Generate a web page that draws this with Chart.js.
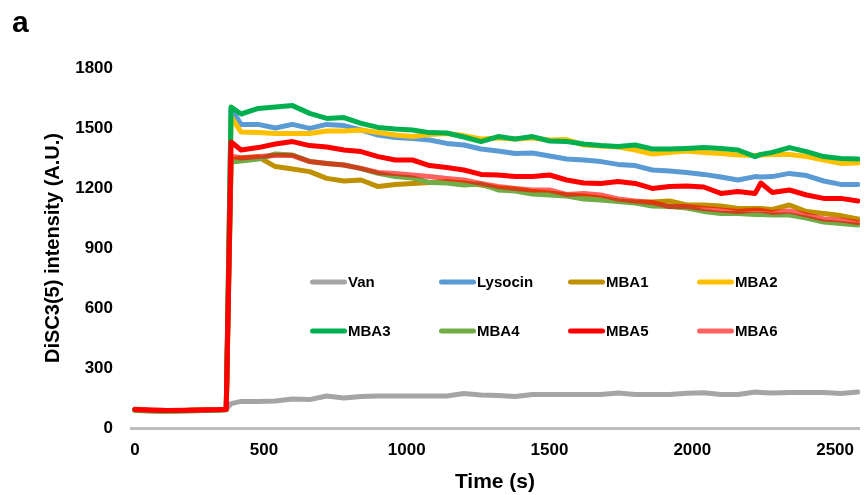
<!DOCTYPE html>
<html lang="en">
<head>
<meta charset="utf-8">
<title>DiSC3(5) intensity</title>
<script src="https://cdn.jsdelivr.net/npm/chart.js"></script>
<style>
  html, body { margin: 0; padding: 0; background: #fff; }
  #wrap { width: 866px; height: 495px; }
</style>
</head>
<body>
<div id="wrap"><canvas id="chart" width="866" height="495"></canvas></div>
<script>
// time points (s), shared by every series
const times = [48, 100, 160, 220, 280, 340, 368, 385,
  420, 480, 540, 600, 660, 720, 780, 840, 900, 960, 1020, 1080, 1140, 1200, 1260, 1320, 1380, 1440,
  1500, 1560, 1620, 1680, 1740, 1800, 1860, 1920, 1980, 2040, 2100, 2160, 2220, 2240,
  2280, 2340, 2400, 2460, 2520, 2580];

const van = [95, 90, 88, 88, 90, 92, 94, 122,
  133, 133, 135, 145, 142, 160, 150, 158, 160, 160, 160, 160, 160, 172, 165, 162, 157, 167,
  167, 167, 167, 167, 175, 168, 168, 168, 174, 176, 168, 168, 180, 178,
  175, 178, 178, 178, 172, 180];
const lysocin = [92, 88, 86, 88, 90, 91, 93, 1600,
  1517, 1518, 1500, 1518, 1498, 1518, 1512, 1490, 1465, 1452, 1448, 1440, 1423, 1415, 1395, 1385, 1373, 1375,
  1360, 1345, 1340, 1332, 1318, 1312, 1290, 1285, 1278, 1268, 1255, 1240, 1257, 1255,
  1257, 1273, 1262, 1235, 1218, 1218];
const mba1 = [90, 87, 86, 87, 89, 90, 92, 1340,
  1350, 1355, 1307, 1295, 1282, 1248, 1235, 1240, 1207, 1218, 1223, 1228, 1232, 1225, 1215, 1200, 1195, 1182,
  1175, 1165, 1160, 1150, 1135, 1130, 1130, 1135, 1115, 1115, 1110, 1098, 1098, 1097,
  1093, 1115, 1082, 1072, 1062, 1045];
const mba2 = [91, 88, 87, 88, 90, 91, 93, 1555,
  1480, 1478, 1473, 1473, 1473, 1485, 1485, 1490, 1478, 1465, 1457, 1468, 1472, 1462, 1445, 1450, 1445, 1450,
  1440, 1442, 1415, 1410, 1405, 1390, 1370, 1378, 1385, 1378, 1372, 1365, 1362, 1365,
  1368, 1368, 1357, 1340, 1323, 1325];
const mba3 = [90, 86, 85, 86, 88, 90, 92, 1605,
  1570, 1598, 1605, 1612, 1573, 1548, 1552, 1523, 1503, 1495, 1490, 1477, 1475, 1455, 1432, 1457, 1445, 1457,
  1435, 1432, 1420, 1412, 1407, 1415, 1395, 1395, 1398, 1402, 1398, 1390, 1357, 1368,
  1378, 1402, 1382, 1357, 1348, 1345];
const mba4 = [88, 85, 84, 85, 87, 89, 91, 1330,
  1335, 1345, 1370, 1365, 1333, 1323, 1315, 1297, 1273, 1257, 1250, 1228, 1225, 1215, 1220, 1190, 1185, 1170,
  1165, 1160, 1145, 1140, 1132, 1125, 1110, 1107, 1100, 1083, 1073, 1073, 1068, 1067,
  1065, 1065, 1050, 1030, 1023, 1015];
const mba5 = [93, 90, 88, 89, 90, 92, 94, 1430,
  1390, 1402, 1420, 1432, 1412, 1405, 1390, 1382, 1357, 1340, 1340, 1312, 1302, 1290, 1268, 1265, 1257, 1257,
  1265, 1240, 1225, 1223, 1232, 1223, 1198, 1207, 1210, 1205, 1173, 1182, 1173, 1225,
  1178, 1190, 1165, 1148, 1148, 1135];
const mba6 = [92, 89, 87, 88, 90, 91, 93, 1360,
  1350, 1357, 1362, 1362, 1332, 1323, 1315, 1298, 1278, 1272, 1265, 1257, 1248, 1240, 1223, 1208, 1198, 1190,
  1190, 1168, 1172, 1165, 1145, 1135, 1128, 1107, 1107, 1098, 1090, 1082, 1090, 1088,
  1078, 1085, 1065, 1045, 1040, 1028];

const seriesNames = ['Van', 'Lysocin', 'MBA1', 'MBA2', 'MBA3', 'MBA4', 'MBA5', 'MBA6'];
const seriesColors = ['#a5a5a5', '#5b9bd5', '#bf9000', '#ffc000', '#00b050', '#70ad47', '#ff0000', 'rgba(255,0,0,0.62)'];
const allSeries = [van, lysocin, mba1, mba2, mba3, mba4, mba5, mba6];

// x labels sit on these positions
const tickValues = [48, 500, 1000, 1500, 2000, 2500];
const tickLabels = ['0', '500', '1000', '1500', '2000', '2500'];

Chart.defaults.font.family = '"Liberation Sans", Arial, sans-serif';
Chart.defaults.color = '#000';

// light baseline at y = 0
const baseline = {
  id: 'baseline',
  afterDraw(chart) {
    const ctx = chart.ctx, area = chart.chartArea;
    const y0 = Math.round(chart.scales.y.getPixelForValue(0));
    ctx.save();
    ctx.fillStyle = '#bdbdbd';
    ctx.fillRect(area.left, y0 - 1, area.right - area.left, 3);
    ctx.restore();
  }
};

// legend drawn inside the plot, 4 columns x 2 rows
const legendInside = {
  id: 'legendInside',
  afterDatasetsDraw(chart) {
    const ctx = chart.ctx, area = chart.chartArea;
    chart.data.datasets.forEach((ds, i) => {
      const x = area.left + 180 + (i % 4) * 129;
      const y = area.top + 214 + Math.floor(i / 4) * 49;
      ctx.save();
      ctx.strokeStyle = ds.borderColor;
      ctx.lineWidth = 5;
      ctx.lineCap = 'round';
      ctx.beginPath();
      ctx.moveTo(x + 2.5, y);
      ctx.lineTo(x + 34.5, y);
      ctx.stroke();
      ctx.fillStyle = '#000';
      ctx.font = 'bold 15px "Liberation Sans", Arial, sans-serif';
      ctx.textBaseline = 'middle';
      ctx.fillText(ds.label, x + 38, y + 1);
      ctx.restore();
    });
  }
};

new Chart(document.getElementById('chart'), {
  type: 'line',
  data: {
    datasets: seriesNames.map((name, i) => ({
      label: name,
      data: times.map((t, k) => ({ x: t, y: allSeries[i][k] })),
      borderColor: seriesColors[i],
      backgroundColor: seriesColors[i],
      borderWidth: 5,
      pointRadius: 0,
      tension: 0,
      borderJoinStyle: 'round',
      borderCapStyle: 'round',
      order: seriesNames.length - i
    }))
  },
  options: {
    responsive: false,
    animation: false,
    layout: { padding: { left: 12, top: 0, right: 0, bottom: 0 } },
    plugins: {
      legend: { display: false },
      tooltip: { enabled: false },
      title: {
        display: true, text: 'a', align: 'start', color: '#000',
        font: { size: 30, weight: 'bold' },
        padding: { top: 6, bottom: 26 }
      }
    },
    scales: {
      x: {
        type: 'linear', min: 31, max: 2587,
        afterBuildTicks: s => { s.ticks = tickValues.map(v => ({ value: v })); },
        afterFit: s => { s.height = 67; },
        grid: { display: false, drawTicks: false },
        border: { display: false },
        ticks: {
          callback: (v, i) => tickLabels[i],
          autoSkip: false, maxRotation: 0, padding: 12, color: '#000',
          font: { size: 17, weight: 'bold' }
        },
        title: {
          display: true, text: 'Time (s)', color: '#000',
          font: { size: 21, weight: 'bold' }, padding: { top: 0, bottom: 0 }
        }
      },
      y: {
        min: 0, max: 1800,
        afterFit: s => { s.width = 118; },
        grid: { display: false, drawTicks: false },
        border: { display: false },
        ticks: {
          stepSize: 300, padding: 17, color: '#000',
          callback: v => String(v),
          font: { size: 17, weight: 'bold' }
        },
        title: {
          display: true, text: 'DiSC3(5) intensity (A.U.)', color: '#000',
          font: { size: 20, weight: 'bold' }, padding: { top: 29, bottom: 0 }
        }
      }
    }
  },
  plugins: [baseline, legendInside]
});
</script>
</body>
</html>
